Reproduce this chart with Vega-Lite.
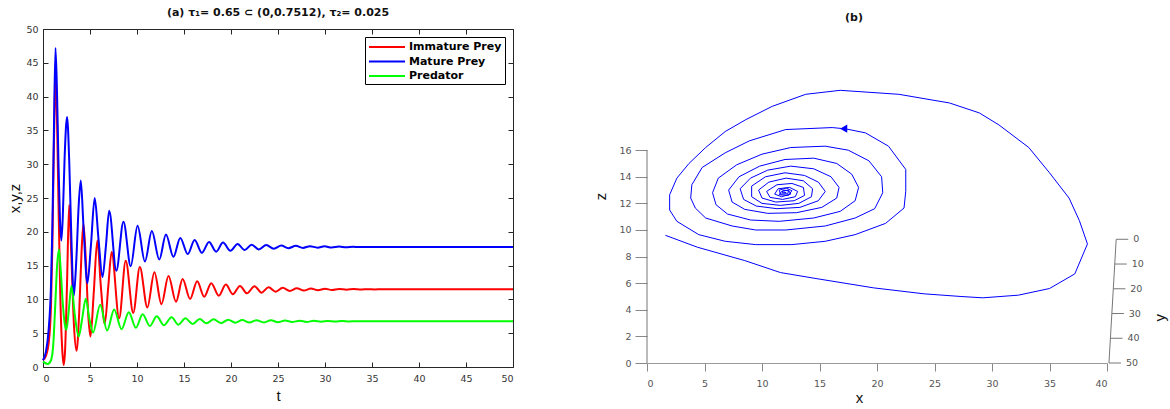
{
  "$schema": "https://vega.github.io/schema/vega-lite/v6.json",
  "padding": {"left": 7, "top": 6, "right": 2, "bottom": 2},
  "background": "white",
  "spacing": 75,
  "resolve": {"legend": {"color": "independent"}},
  "config": {
    "font": "DejaVu Sans",
    "view": {"stroke": null},
    "axis": {"grid": false, "labelFont": "DejaVu Sans", "labelFontSize": 9.5, "titleFont": "Liberation Sans", "titleFontSize": 15, "titleFontWeight": "normal", "titleColor": "#111"}
  },
  "datasets": {
    "ts": [
      {"s":"Immature Prey","t":0,"v":1.0},{"s":"Immature Prey","t":0.3,"v":1.6},{"s":"Immature Prey","t":0.6,"v":3.5},{"s":"Immature Prey","t":0.85,"v":9},{"s":"Immature Prey","t":1.0,"v":18},{"s":"Immature Prey","t":1.15,"v":32},{"s":"Immature Prey","t":1.35,"v":42.8},{"s":"Immature Prey","t":1.5,"v":36},{"s":"Immature Prey","t":1.65,"v":24},{"s":"Immature Prey","t":1.85,"v":10},{"s":"Immature Prey","t":2.05,"v":2.5},{"s":"Immature Prey","t":2.2,"v":0.3},{"s":"Immature Prey","t":2.35,"v":2.5},{"s":"Immature Prey","t":2.55,"v":12},{"s":"Immature Prey","t":2.78,"v":24},{"s":"Immature Prey","t":3.0,"v":17},{"s":"Immature Prey","t":3.3,"v":6},{"s":"Immature Prey","t":3.57,"v":2.4},{"s":"Immature Prey","t":3.85,"v":8},{"s":"Immature Prey","t":4.1,"v":17},{"s":"Immature Prey","t":4.3,"v":21.2},{"s":"Immature Prey","t":4.55,"v":16},{"s":"Immature Prey","t":4.8,"v":8},{"s":"Immature Prey","t":5.05,"v":4.5},{"s":"Immature Prey","t":5.4,"v":11},{"s":"Immature Prey","t":5.78,"v":18.7},{"s":"Immature Prey","t":6.15,"v":12},{"s":"Immature Prey","t":6.57,"v":6.4},{"s":"Immature Prey","t":6.95,"v":12},{"s":"Immature Prey","t":7.3,"v":17.0},{"s":"Immature Prey","t":8.1,"v":7.2},{"s":"Immature Prey","t":8.8,"v":15.7},{"s":"Immature Prey","t":9.6,"v":8.0},{"s":"Immature Prey","t":10.3,"v":14.8},{"s":"Immature Prey","t":11.1,"v":8.8},{"s":"Immature Prey","t":11.85,"v":14.0},{"s":"Immature Prey","t":12.6,"v":9.3},{"s":"Immature Prey","t":13.35,"v":13.45},{"s":"Immature Prey","t":14.15,"v":9.65},{"s":"Immature Prey","t":14.85,"v":13.0},{"s":"Immature Prey","t":15.65,"v":10.05},{"s":"Immature Prey","t":16.4,"v":12.7},{"s":"Immature Prey","t":17.15,"v":10.4},{"s":"Immature Prey","t":17.9,"v":12.4},{"s":"Immature Prey","t":18.7,"v":10.55},{"s":"Immature Prey","t":19.45,"v":12.2},{"s":"Immature Prey","t":20.2,"v":10.75},{"s":"Immature Prey","t":20.95,"v":12.0},{"s":"Immature Prey","t":21.7,"v":10.9},{"s":"Immature Prey","t":22.5,"v":11.95},{"s":"Immature Prey","t":23.25,"v":11.0},{"s":"Immature Prey","t":24.0,"v":11.8},{"s":"Immature Prey","t":24.75,"v":11.15},{"s":"Immature Prey","t":25.5,"v":11.72},{"s":"Immature Prey","t":26.25,"v":11.25},{"s":"Immature Prey","t":27.0,"v":11.65},{"s":"Immature Prey","t":27.75,"v":11.3},{"s":"Immature Prey","t":28.5,"v":11.6},{"s":"Immature Prey","t":29.25,"v":11.36},{"s":"Immature Prey","t":30.0,"v":11.56},{"s":"Immature Prey","t":30.75,"v":11.4},{"s":"Immature Prey","t":31.5,"v":11.55},{"s":"Immature Prey","t":32.3,"v":11.44},{"s":"Immature Prey","t":33.05,"v":11.53},{"s":"Immature Prey","t":33.8,"v":11.46},{"s":"Immature Prey","t":34.55,"v":11.52},{"s":"Immature Prey","t":35.3,"v":11.48},{"s":"Immature Prey","t":36.0,"v":11.5},{"s":"Immature Prey","t":50,"v":11.5},
      {"s":"Mature Prey","t":0,"v":1.0},{"s":"Mature Prey","t":0.3,"v":2.2},{"s":"Mature Prey","t":0.6,"v":5.5},{"s":"Mature Prey","t":0.85,"v":12},{"s":"Mature Prey","t":1.0,"v":21},{"s":"Mature Prey","t":1.15,"v":34},{"s":"Mature Prey","t":1.33,"v":47.2},{"s":"Mature Prey","t":1.5,"v":40},{"s":"Mature Prey","t":1.65,"v":30},{"s":"Mature Prey","t":1.8,"v":22},{"s":"Mature Prey","t":1.95,"v":18.7},{"s":"Mature Prey","t":2.1,"v":22},{"s":"Mature Prey","t":2.3,"v":31},{"s":"Mature Prey","t":2.56,"v":37.0},{"s":"Mature Prey","t":2.8,"v":30},{"s":"Mature Prey","t":3.0,"v":20},{"s":"Mature Prey","t":3.27,"v":10.5},{"s":"Mature Prey","t":3.55,"v":16},{"s":"Mature Prey","t":3.8,"v":24},{"s":"Mature Prey","t":4.02,"v":27.6},{"s":"Mature Prey","t":4.3,"v":21},{"s":"Mature Prey","t":4.72,"v":12.4},{"s":"Mature Prey","t":5.1,"v":18},{"s":"Mature Prey","t":5.5,"v":25.0},{"s":"Mature Prey","t":5.9,"v":19},{"s":"Mature Prey","t":6.33,"v":13.3},{"s":"Mature Prey","t":6.7,"v":18},{"s":"Mature Prey","t":7.04,"v":23.1},{"s":"Mature Prey","t":7.8,"v":14.25},{"s":"Mature Prey","t":8.56,"v":21.5},{"s":"Mature Prey","t":9.33,"v":14.9},{"s":"Mature Prey","t":10.06,"v":20.9},{"s":"Mature Prey","t":10.84,"v":15.6},{"s":"Mature Prey","t":11.58,"v":20.1},{"s":"Mature Prey","t":12.37,"v":15.9},{"s":"Mature Prey","t":13.08,"v":19.6},{"s":"Mature Prey","t":13.88,"v":16.3},{"s":"Mature Prey","t":14.6,"v":19.1},{"s":"Mature Prey","t":15.4,"v":16.7},{"s":"Mature Prey","t":16.13,"v":18.8},{"s":"Mature Prey","t":16.9,"v":16.9},{"s":"Mature Prey","t":17.66,"v":18.5},{"s":"Mature Prey","t":18.42,"v":17.06},{"s":"Mature Prey","t":19.15,"v":18.4},{"s":"Mature Prey","t":19.94,"v":17.2},{"s":"Mature Prey","t":20.7,"v":18.2},{"s":"Mature Prey","t":21.45,"v":17.3},{"s":"Mature Prey","t":22.2,"v":18.1},{"s":"Mature Prey","t":22.95,"v":17.4},{"s":"Mature Prey","t":23.75,"v":18.05},{"s":"Mature Prey","t":24.55,"v":17.5},{"s":"Mature Prey","t":25.35,"v":17.97},{"s":"Mature Prey","t":26.1,"v":17.58},{"s":"Mature Prey","t":26.9,"v":17.92},{"s":"Mature Prey","t":27.65,"v":17.62},{"s":"Mature Prey","t":28.4,"v":17.88},{"s":"Mature Prey","t":29.2,"v":17.65},{"s":"Mature Prey","t":29.95,"v":17.85},{"s":"Mature Prey","t":30.7,"v":17.68},{"s":"Mature Prey","t":31.5,"v":17.82},{"s":"Mature Prey","t":32.25,"v":17.71},{"s":"Mature Prey","t":33.0,"v":17.78},{"s":"Mature Prey","t":33.5,"v":17.75},{"s":"Mature Prey","t":50,"v":17.75},
      {"s":"Predator","t":0,"v":0.8},{"s":"Predator","t":0.5,"v":0.45},{"s":"Predator","t":0.85,"v":1.0},{"s":"Predator","t":1.1,"v":3.5},{"s":"Predator","t":1.3,"v":9},{"s":"Predator","t":1.5,"v":15},{"s":"Predator","t":1.7,"v":17.4},{"s":"Predator","t":1.9,"v":14},{"s":"Predator","t":2.1,"v":9.5},{"s":"Predator","t":2.3,"v":6.5},{"s":"Predator","t":2.49,"v":5.5},{"s":"Predator","t":2.75,"v":8.5},{"s":"Predator","t":3.02,"v":12.0},{"s":"Predator","t":3.4,"v":7.5},{"s":"Predator","t":3.8,"v":4.5},{"s":"Predator","t":4.15,"v":7},{"s":"Predator","t":4.55,"v":10.1},{"s":"Predator","t":4.95,"v":7},{"s":"Predator","t":5.33,"v":5.1},{"s":"Predator","t":6.08,"v":9.2},{"s":"Predator","t":6.82,"v":5.4},{"s":"Predator","t":7.57,"v":8.5},{"s":"Predator","t":8.35,"v":5.6},{"s":"Predator","t":9.13,"v":8.1},{"s":"Predator","t":9.88,"v":5.8},{"s":"Predator","t":10.6,"v":7.8},{"s":"Predator","t":11.37,"v":6.07},{"s":"Predator","t":12.1,"v":7.5},{"s":"Predator","t":12.86,"v":6.16},{"s":"Predator","t":13.68,"v":7.35},{"s":"Predator","t":14.4,"v":6.26},{"s":"Predator","t":15.14,"v":7.2},{"s":"Predator","t":15.92,"v":6.36},{"s":"Predator","t":16.67,"v":7.1},{"s":"Predator","t":17.4,"v":6.46},{"s":"Predator","t":18.16,"v":7.05},{"s":"Predator","t":18.94,"v":6.5},{"s":"Predator","t":19.7,"v":7.0},{"s":"Predator","t":20.45,"v":6.55},{"s":"Predator","t":21.2,"v":6.95},{"s":"Predator","t":21.95,"v":6.58},{"s":"Predator","t":22.7,"v":6.92},{"s":"Predator","t":23.5,"v":6.6},{"s":"Predator","t":24.25,"v":6.9},{"s":"Predator","t":25.0,"v":6.63},{"s":"Predator","t":25.75,"v":6.88},{"s":"Predator","t":26.5,"v":6.65},{"s":"Predator","t":27.3,"v":6.85},{"s":"Predator","t":28.05,"v":6.67},{"s":"Predator","t":28.8,"v":6.83},{"s":"Predator","t":29.6,"v":6.7},{"s":"Predator","t":30.3,"v":6.81},{"s":"Predator","t":31.1,"v":6.72},{"s":"Predator","t":31.8,"v":6.8},{"s":"Predator","t":32.6,"v":6.74},{"s":"Predator","t":33.3,"v":6.78},{"s":"Predator","t":34,"v":6.76},{"s":"Predator","t":50,"v":6.76}
    ],
    "traj": [
      {"i":1,"x":1.6,"z":9.6},{"i":2,"x":4.4,"z":8.7},{"i":3,"x":8.5,"z":7.7},{"i":4,"x":11.6,"z":6.8},{"i":5,"x":14.7,"z":6.35},{"i":6,"x":19.7,"z":5.65},{"i":7,"x":24.1,"z":5.2},{"i":8,"x":27.3,"z":5.0},{"i":9,"x":29.2,"z":4.9},{"i":10,"x":32.3,"z":5.1},{"i":11,"x":35.0,"z":5.6},{"i":12,"x":37.2,"z":6.7},{"i":13,"x":38.3,"z":8.95},{"i":14,"x":37.6,"z":10.7},{"i":15,"x":36.7,"z":12.4},{"i":16,"x":35.0,"z":14.3},{"i":17,"x":33.2,"z":16.2},{"i":18,"x":30.6,"z":17.9},{"i":19,"x":28.9,"z":18.8},{"i":20,"x":26.3,"z":19.55},{"i":21,"x":21.9,"z":20.2},{"i":22,"x":16.8,"z":20.5},{"i":23,"x":13.8,"z":20.2},{"i":24,"x":10.9,"z":19.3},{"i":25,"x":8.6,"z":18.3},{"i":26,"x":6.8,"z":17.4},{"i":27,"x":5.1,"z":16.2},{"i":28,"x":3.65,"z":15.0},{"i":29,"x":2.6,"z":13.9},{"i":30,"x":1.97,"z":12.65},{"i":31,"x":1.97,"z":11.5},{"i":32,"x":2.6,"z":10.65},{"i":33,"x":4.5,"z":9.65},{"i":34,"x":6.8,"z":9.15},{"i":35,"x":9.45,"z":8.9},{"i":36,"x":12.6,"z":8.9},{"i":37,"x":15.5,"z":9.15},{"i":38,"x":18.1,"z":9.65},{"i":39,"x":20.75,"z":10.5},{"i":40,"x":22.35,"z":11.65},{"i":41,"x":22.5,"z":12.9},{"i":42,"x":22.5,"z":14.55},{"i":43,"x":21.0,"z":16.3},{"i":44,"x":19.0,"z":17.3},{"i":45,"x":17.3,"z":17.6},{"i":46,"x":16.1,"z":17.7},{"i":47,"x":12.06,"z":17.55},{"i":48,"x":8.9,"z":16.7},{"i":49,"x":6.8,"z":15.8},{"i":50,"x":4.8,"z":14.7},{"i":51,"x":3.9,"z":13.4},{"i":52,"x":3.8,"z":12.4},{"i":53,"x":4.2,"z":11.65},{"i":54,"x":5.1,"z":10.9},{"i":55,"x":7.4,"z":10.3},{"i":56,"x":9.45,"z":10.0},{"i":57,"x":12.06,"z":10.0},{"i":58,"x":15.5,"z":10.3},{"i":59,"x":18.1,"z":10.9},{"i":60,"x":19.8,"z":11.6},{"i":61,"x":20.5,"z":12.8},{"i":62,"x":20.4,"z":14.0},{"i":63,"x":19.3,"z":15.2},{"i":64,"x":17.5,"z":16.0},{"i":65,"x":15.5,"z":16.3},{"i":66,"x":12.5,"z":16.2},{"i":67,"x":10.0,"z":15.7},{"i":68,"x":7.8,"z":14.9},{"i":69,"x":6.2,"z":13.9},{"i":70,"x":5.7,"z":12.8},{"i":71,"x":6.0,"z":11.9},{"i":72,"x":7.0,"z":11.2},{"i":73,"x":9.0,"z":10.75},{"i":74,"x":11.5,"z":10.65},{"i":75,"x":14.5,"z":10.9},{"i":76,"x":16.8,"z":11.4},{"i":77,"x":18.1,"z":12.2},{"i":78,"x":18.4,"z":13.2},{"i":79,"x":17.8,"z":14.2},{"i":80,"x":16.5,"z":15.0},{"i":81,"x":14.5,"z":15.4},{"i":82,"x":12.0,"z":15.3},{"i":83,"x":9.8,"z":14.8},{"i":84,"x":8.0,"z":14.0},{"i":85,"x":7.1,"z":13.0},{"i":86,"x":7.4,"z":12.1},{"i":87,"x":8.5,"z":11.55},{"i":88,"x":10.5,"z":11.25},{"i":89,"x":13.0,"z":11.3},{"i":90,"x":15.2,"z":11.7},{"i":91,"x":16.5,"z":12.4},{"i":92,"x":16.7,"z":13.2},{"i":93,"x":16.0,"z":14.0},{"i":94,"x":14.5,"z":14.6},{"i":95,"x":12.5,"z":14.8},{"i":96,"x":10.5,"z":14.5},{"i":97,"x":9.0,"z":13.9},{"i":98,"x":8.1,"z":13.1},{"i":99,"x":8.4,"z":12.3},{"i":100,"x":9.5,"z":11.8},{"i":101,"x":11.3,"z":11.6},{"i":102,"x":13.3,"z":11.7},{"i":103,"x":14.9,"z":12.2},{"i":104,"x":15.5,"z":12.9},{"i":105,"x":14.9,"z":13.6},{"i":106,"x":13.7,"z":14.1},{"i":107,"x":12.0,"z":14.3},{"i":108,"x":10.3,"z":14.0},{"i":109,"x":9.1,"z":13.3},{"i":110,"x":9.1,"z":12.5},{"i":111,"x":10.0,"z":12.0},{"i":112,"x":11.6,"z":11.85},{"i":113,"x":13.2,"z":12.0},{"i":114,"x":14.3,"z":12.5},{"i":115,"x":14.4,"z":13.1},{"i":116,"x":13.6,"z":13.7},{"i":117,"x":12.1,"z":13.9},{"i":118,"x":10.6,"z":13.6},{"i":119,"x":9.7,"z":13.0},{"i":120,"x":10.0,"z":12.4},{"i":121,"x":11.2,"z":12.1},{"i":122,"x":12.8,"z":12.2},{"i":123,"x":13.7,"z":12.6},{"i":124,"x":13.6,"z":13.2},{"i":125,"x":12.6,"z":13.5},{"i":126,"x":11.3,"z":13.4},{"i":127,"x":10.4,"z":12.9},{"i":128,"x":10.7,"z":12.45},{"i":129,"x":11.8,"z":12.3},{"i":130,"x":12.9,"z":12.5},{"i":131,"x":13.1,"z":12.9},{"i":132,"x":12.4,"z":13.2},{"i":133,"x":11.4,"z":13.1},{"i":134,"x":11.1,"z":12.7},{"i":135,"x":11.7,"z":12.5},{"i":136,"x":12.5,"z":12.7},{"i":137,"x":12.3,"z":13.0},{"i":138,"x":11.7,"z":12.9},{"i":139,"x":11.5,"z":12.65},{"i":140,"x":12.3,"z":12.6},{"i":141,"x":12.6,"z":12.95},{"i":142,"x":12.1,"z":13.15},{"i":143,"x":11.5,"z":13.0},{"i":144,"x":11.6,"z":12.7},{"i":145,"x":12.25,"z":12.72},{"i":146,"x":12.3,"z":12.95},{"i":147,"x":11.85,"z":13.0},{"i":148,"x":11.75,"z":12.8},{"i":149,"x":12.1,"z":12.8},{"i":150,"x":11.95,"z":12.85}
    ],
    "yticks": [
      {"lab":"0","x":40.8,"z":9.3,"xe":41.85},
      {"lab":"10","x":40.67,"z":7.44,"xe":41.72},
      {"lab":"20","x":40.55,"z":5.58,"xe":41.6},
      {"lab":"30","x":40.42,"z":3.72,"xe":41.47},
      {"lab":"40","x":40.3,"z":1.86,"xe":41.35},
      {"lab":"50","x":40.17,"z":0.0,"xe":41.22}
    ]
  },
  "hconcat": [
    {
      "width": 470,
      "height": 338,
      "view": {"stroke": "#262626", "strokeWidth": 1},
      "title": {"text": "(a) τ₁= 0.65 ⊂ (0,0.7512), τ₂= 0.025", "font": "DejaVu Sans", "fontSize": 11, "fontWeight": "bold", "color": "#111", "offset": 6},
      "data": {"name": "ts"},
      "layer": [
        {
          "mark": {"type": "line", "strokeWidth": 2, "interpolate": "monotone"},
          "encoding": {
            "x": {"field": "t", "type": "quantitative", "scale": {"domain": [0, 50], "nice": false},
                  "axis": {"values": [0,5,10,15,20,25,30,35,40,45,50], "title": "t", "domain": false, "tickSize": -5, "tickColor": "#262626", "labelPadding": 11, "labelColor": "#333", "titlePadding": 6}},
            "y": {"field": "v", "type": "quantitative", "scale": {"domain": [0, 50], "nice": false},
                  "axis": {"values": [0,5,10,15,20,25,30,35,40,45,50], "title": "x,y,z", "domain": false, "tickSize": -5, "tickColor": "#262626", "labelPadding": 10, "labelColor": "#333", "titlePadding": 3}},
            "color": {"field": "s", "type": "nominal",
                      "scale": {"domain": ["Immature Prey", "Mature Prey", "Predator"], "range": ["#ff0000", "#0000ff", "#00ff00"]},
                      "legend": {"title": null, "orient": "top-right", "offset": 8, "padding": 3, "strokeColor": "#000", "fillColor": "#fff", "cornerRadius": 0, "labelFont": "DejaVu Sans", "labelFontWeight": "bold", "labelFontSize": 11, "labelColor": "#000", "symbolType": "M-1,0H5", "symbolSize": 144, "symbolStrokeWidth": 2, "rowPadding": 2.5, "labelOffset": 27}}
          }
        },
        {
          "mark": {"type": "point", "opacity": 0},
          "encoding": {
            "x": {"field": "t", "type": "quantitative", "axis": {"orient": "top", "values": [0,5,10,15,20,25,30,35,40,45,50], "labels": false, "title": null, "domain": false, "tickSize": -5, "tickColor": "#262626"}},
            "y": {"field": "v", "type": "quantitative", "axis": {"orient": "right", "values": [0,5,10,15,20,25,30,35,40,45,50], "labels": false, "title": null, "domain": false, "tickSize": -5, "tickColor": "#262626"}}
          }
        }
      ],
      "resolve": {"axis": {"x": "independent", "y": "independent"}}
    },
    {
      "width": 460,
      "height": 334,
      "view": {"stroke": null},
      "title": {"text": "(b)", "font": "DejaVu Sans", "fontSize": 11, "fontWeight": "bold", "color": "#111", "offset": 6, "dx": -23},
      "encoding": {
        "x": {"field": "x", "type": "quantitative", "scale": {"domain": [0, 40], "nice": false, "zero": false},
              "axis": {"values": [0,5,10,15,20,25,30,35,40], "title": "x", "titleX": 212, "tickSize": 8, "tickColor": "#888", "domainColor": "#999", "labelColor": "#555", "labelPadding": 7, "titlePadding": 3}},
        "y": {"field": "z", "type": "quantitative", "scale": {"domain": [0, 25.11], "nice": false},
              "axis": {"values": [0,2,4,6,8,10,12,14,16], "title": "z", "domain": false, "tickSize": 12, "tickColor": "#888", "labelColor": "#555", "labelPadding": 4, "titlePadding": 10}}
      },
      "layer": [
        {
          "data": {"name": "traj"},
          "mark": {"type": "line", "color": "#0000ff", "strokeWidth": 1},
          "encoding": {"order": {"field": "i", "type": "quantitative"}}
        },
        {
          "data": {"values": [{"x": 0, "z": 0, "z2": 16}]},
          "mark": {"type": "rule", "color": "#777", "strokeWidth": 1},
          "encoding": {"y2": {"field": "z2"}}
        },
        {
          "data": {"values": [{"x": 40.17, "z": 0, "x2": 40.8, "z2": 9.3}]},
          "mark": {"type": "rule", "color": "#777", "strokeWidth": 1},
          "encoding": {"x2": {"field": "x2"}, "y2": {"field": "z2"}}
        },
        {
          "data": {"name": "yticks"},
          "mark": {"type": "rule", "color": "#777", "strokeWidth": 1},
          "encoding": {"x2": {"field": "xe"}}
        },
        {
          "data": {"name": "yticks"},
          "mark": {"type": "text", "align": "left", "baseline": "middle", "dx": 17, "font": "DejaVu Sans", "fontSize": 9.5, "color": "#555"},
          "encoding": {"text": {"field": "lab"}}
        },
        {
          "data": {"values": [{"x": 44.6, "z": 3.4, "lab": "y"}]},
          "mark": {"type": "text", "align": "center", "baseline": "middle", "angle": 270, "font": "Liberation Sans", "fontSize": 15, "color": "#111"},
          "encoding": {"text": {"field": "lab"}}
        },
        {
          "data": {"values": [{"x": 17.1, "z": 17.62}]},
          "mark": {"type": "point", "shape": "triangle-left", "filled": true, "size": 70, "color": "#0000ff", "opacity": 1}
        }
      ]
    }
  ]
}
